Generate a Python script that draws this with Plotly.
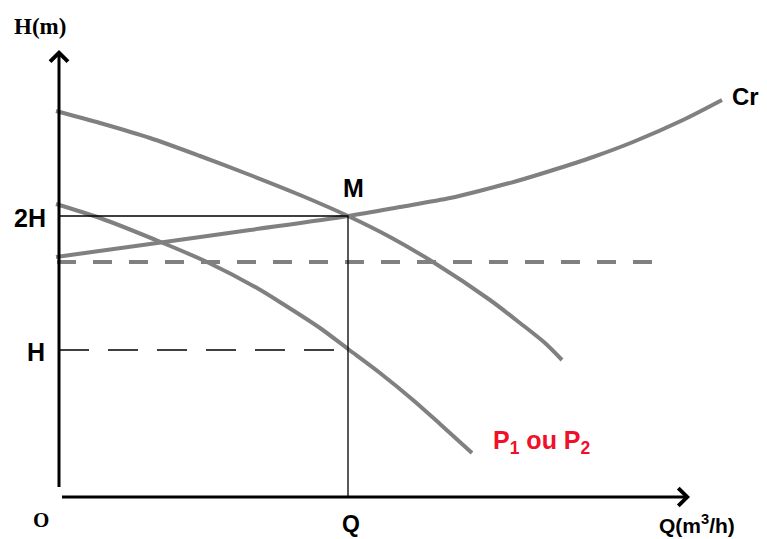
import plotly.graph_objects as go

# schematic pump / network curves (units: arbitrary, origin at O)
q_pumps = [-3, 41, 91, 141, 191, 241, 289, 331, 374, 431, 461, 486, 503]
h_pumps = [386, 374, 359, 341, 322, 302, 281, 260, 235, 197, 174, 154, 137]

q_single = [-3, 41, 104, 148, 198, 224, 261, 289, 321, 354, 381, 413]
h_single = [293, 279, 254, 235, 209, 193, 169, 148, 124, 97, 73, 44]

q_cr = [-3, 91, 191, 289, 341, 391, 424, 458, 491, 534, 574, 624, 663]
h_cr = [240, 253, 267, 281, 290, 299, 307, 316, 326, 340, 355, 377, 397]

q_static = [-2, 598]
h_static = [235, 235]

q_m, h_m = 289, 281      # operating point M (Q, 2H)
h_one = 147              # H
q_max, h_max = 631, 447  # axis arrow tips

grey = "#808080"

fig = go.Figure()

fig.add_trace(go.Scatter(x=q_pumps, y=h_pumps, mode="lines",
                         line=dict(color=grey, width=4, shape="spline", smoothing=0.8)))
fig.add_trace(go.Scatter(x=q_single, y=h_single, mode="lines",
                         line=dict(color=grey, width=4, shape="spline", smoothing=0.8)))
fig.add_trace(go.Scatter(x=q_cr, y=h_cr, mode="lines",
                         line=dict(color=grey, width=4, shape="spline", smoothing=0.8)))
fig.add_trace(go.Scatter(x=q_static, y=h_static, mode="lines",
                         line=dict(color=grey, width=4, dash="19px,17px")))

# guide lines to M and to H
fig.add_trace(go.Scatter(x=[0, q_m, q_m], y=[h_m, h_m, 0], mode="lines",
                         line=dict(color="black", width=1.3)))
fig.add_trace(go.Scatter(x=[0, q_m], y=[h_one, h_one], mode="lines",
                         line=dict(color="black", width=1.3, dash="30px,19px")))

# axes with arrows
for tip_x, tip_y in [(0, h_max), (q_max, 0)]:
    fig.add_annotation(x=tip_x, y=tip_y, ax=0, ay=0, xref="x", yref="y",
                       axref="x", ayref="y", text=" ", showarrow=True,
                       arrowhead=4, arrowsize=1.15, arrowwidth=3,
                       arrowcolor="black")

sans = "Liberation Sans, Arial, sans-serif"
serif = "Liberation Serif, Times New Roman, serif"
labels = [
    ("<b>H(m)</b>", -19, 471, "center", serif, 23, "black"),
    ("<b>O</b>", -18, -23, "center", serif, 21, "black"),
    ("<b>2H</b>", -29, 279, "center", sans, 25, "black"),
    ("<b>H</b>", -23, 145, "center", sans, 25, "black"),
    ("<b>M</b>", 294, 309, "center", sans, 25, "black"),
    ("<b>Q</b>", 292, -27, "center", sans, 23, "black"),
    ("<b>Q(m<sup>3</sup>/h)</b>", 638, -27, "center", sans, 21, "black"),
    ("<b>Cr</b>", 671, 401, "left", sans, 24, "black"),
    ("<b>P<sub>1</sub> ou P<sub>2</sub></b>", 483, 55, "center", sans, 25, "#f0102a"),
]
for text, x, y, anchor, fam, size, col in labels:
    fig.add_annotation(x=x, y=y, text=text, showarrow=False, xanchor=anchor,
                       font=dict(family=fam, size=size, color=col))

# page body adds an 8px margin, so the figure is 8px smaller than the window
fig.update_layout(
    width=759, height=531,
    margin=dict(l=0, r=0, t=0, b=0),
    paper_bgcolor="white", plot_bgcolor="white",
    showlegend=False,
    xaxis=dict(range=[-51, 708], visible=False, fixedrange=True),
    yaxis=dict(range=[-42, 489], visible=False, fixedrange=True),
)

fig.write_html("out.html")
